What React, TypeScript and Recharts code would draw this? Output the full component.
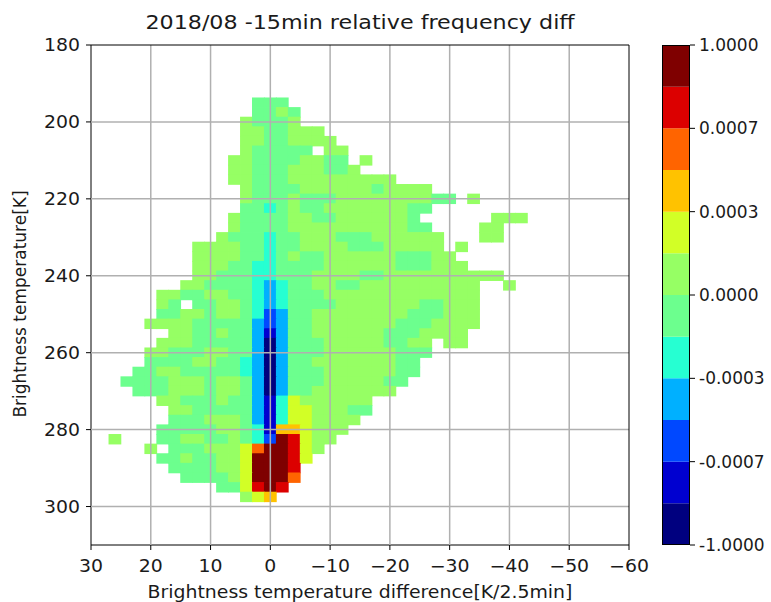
import React from "react";
import { ScatterChart, Scatter, XAxis, YAxis, ReferenceLine, BarChart, Bar } from "recharts";

const TITLE = "2018/08 -15min relative frequency diff";
const X_LABEL = "Brightness temperature difference[K/2.5min]";
const Y_LABEL = "Brightness temperature[K]";

const X_TICKS = [30, 20, 10, 0, -10, -20, -30, -40, -50, -60];
const Y_TICKS = [180, 200, 220, 240, 260, 280, 300];

// bin centres of the contour grid (K/2.5min and K)
const X_BINS = [26, 24, 22, 20, 18, 16, 14, 12, 10, 8, 6, 4, 2, 0, -2, -4, -6, -8, -10, -12,
    -14, -16, -18, -20, -22, -24, -26, -28, -30, -32, -34, -36, -38, -40, -42, -44];
const Y_BINS = [195, 197.5, 200, 202.5, 205, 207.5, 210, 212.5, 215, 217.5, 220, 222.5, 225,
    227.5, 230, 232.5, 235, 237.5, 240, 242.5, 245, 247.5, 250, 252.5, 255, 257.5, 260, 262.5,
    265, 267.5, 270, 272.5, 275, 277.5, 280, 282.5, 285, 287.5, 290, 292.5, 295, 297.5];

// contour level per bin ('.' = no data, 0..b = colour level index)
const GRID = [
    "............555",
    "............5565",
    "...........65556",
    "...........6655666",
    "...........66556666",
    "...........655555.66",
    "..........6655556655.6",
    "..........66555666556",
    "..........66555666666666",
    "...........6555566666656666",
    "...........655565556666666655.6",
    "...........5545655666666655",
    "..........6555566556666665......666",
    "..........65555666666666655....66",
    ".........6555455666555666666...66",
    ".......666655455666655566666.6",
    ".......6666554565566666655566",
    ".......66655445555666666555666",
    ".......66555445556666556666666666",
    "......6655554345566556666666666..6",
    "....665566554345556666666666666",
    "....65.556654345555666666655666",
    "....556656654235566666666555666",
    "...6666555553235566666665556666",
    ".....6655655313556666665556666",
    "....66655555303555666665566.66",
    "...665556655303555666666555",
    "...55556655430355666666655",
    "..556655555430355566666655",
    ".555566656653035556666655",
    "..5556665665303556666666",
    "....665556553147666666",
    ".....66555553147766655",
    ".....5556665314776666",
    "....5555566541887666",
    "6...5566556542ba766",
    "...6.55566679bba76",
    "....55655667bbba7",
    ".....5555667bbba",
    "......555567bbb9",
    ".........557aba",
    "...........678",
];

const LEVEL_COLORS = [
    "#00007f", "#0000d0", "#0048ff", "#00b0ff", "#26ffd2", "#6cff8e",
    "#96ff64", "#d2ff26", "#ffc200", "#ff6400", "#dc0000", "#7f0000",
];
const LEVEL_TICKS = [0, 2, 4, 6, 8, 10, 12];
const LEVEL_LABELS = ["-1.0000", "-0.0007", "-0.0003", "0.0000", "0.0003", "0.0007", "1.0000"];

const cells: { x: number; y: number; level: number }[] = [];
GRID.forEach((row, r) => {
    for (let i = 0; i < row.length; i++) {
        const ch = row[i];
        if (ch === ".") continue;
        cells.push({ x: X_BINS[i], y: Y_BINS[r], level: parseInt(ch, 16) });
    }
});

const cbRow: Record<string, any> = { name: "cb" };
LEVEL_COLORS.forEach((_, i) => { cbRow[`l${i}`] = 1; });

const FONT = "DejaVu Sans, sans-serif";
const INK = "#1a1a1a";
const STRETCH = 1.11; // the source figure is a little wider than tall
const PLOT_W = 538;
const PLOT_H = 500;
const CELL_W = (PLOT_W / 90) * 2 + 0.8;
const CELL_H = (PLOT_H / 130) * 2.5 + 0.8;

const CellShape = (p: any) => (
    <rect x={p.cx - CELL_W / 2} y={p.cy - CELL_H / 2} width={CELL_W} height={CELL_H}
        fill={LEVEL_COLORS[p.payload.level]} />
);

const fmtX = (v: number) => (v < 0 ? `\u2212${-v}` : `${v}`);

const makeTick = (anchor: "start" | "middle" | "end", dy: string, fmt: (v: number) => string, sx: number) =>
    ({ x, y, payload }: any) => (
        <g transform={`translate(${x},${y})`}>
            <text x={0} y={0} dy={dy} textAnchor={anchor} fontSize={17} fill={INK} fontFamily={FONT}
                transform={`scale(${sx},1)`}>
                {fmt(payload.value)}
            </text>
        </g>
    );

const XTick = makeTick("middle", "0.71em", fmtX, STRETCH);
const YTick = makeTick("end", "0.355em", (v) => `${v}`, STRETCH);
const CbTick = makeTick("start", "0.355em", (v) => LEVEL_LABELS[LEVEL_TICKS.indexOf(v)], 1);

export default function App() {
    return (
        <div style={{ position: "absolute", left: 0, top: 0, width: 771, height: 602, background: "#fff", fontFamily: FONT, color: INK }}>
            <ScatterChart width={660} height={602} margin={{ top: 45, right: 31, bottom: 27, left: 41 }}>
                <XAxis type="number" dataKey="x" domain={[-60, 30]} reversed ticks={X_TICKS}
                    tickFormatter={fmtX} height={30} tickSize={5} tickMargin={10} interval={0}
                    axisLine={{ stroke: "#000" }} tickLine={{ stroke: "#000" }}
                    tick={XTick} allowDataOverflow />
                <YAxis type="number" dataKey="y" domain={[180, 310]} reversed ticks={Y_TICKS}
                    width={50} tickSize={5} tickMargin={6} interval={0}
                    axisLine={{ stroke: "#000" }} tickLine={{ stroke: "#000" }}
                    tick={YTick} allowDataOverflow />
                <Scatter data={cells} shape={CellShape} isAnimationActive={false} />
                {X_TICKS.slice(1, -1).map((t) => (
                    <ReferenceLine key={`gx${t}`} x={t} stroke="#b0b0b0" strokeWidth={1.5} zIndex={700} />
                ))}
                {Y_TICKS.slice(1).map((t) => (
                    <ReferenceLine key={`gy${t}`} y={t} stroke="#b0b0b0" strokeWidth={1.5} zIndex={700} />
                ))}
                <ReferenceLine y={180} stroke="#000" zIndex={800} />
                <ReferenceLine x={-60} stroke="#000" zIndex={800} />
            </ScatterChart>

            <div style={{ position: "absolute", left: 640, top: 0 }}>
                <BarChart width={131} height={602} data={[cbRow]} margin={{ top: 45, right: 0, bottom: 57, left: 22 }}
                    barCategoryGap={0}>
                    <XAxis dataKey="name" hide />
                    <YAxis orientation="right" type="number" domain={[0, 12]} ticks={LEVEL_TICKS}
                        width={81} tickSize={5} tickMargin={4} axisLine={false} interval={0}
                        tickLine={{ stroke: "#000" }} tick={CbTick} />
                    {LEVEL_COLORS.map((c, i) => (
                        <Bar key={i} dataKey={`l${i}`} stackId="cb" fill={c} isAnimationActive={false} />
                    ))}
                </BarChart>
            </div>
            <div style={{ position: "absolute", left: 662, top: 45, width: 28, height: 500, border: "1px solid #000", boxSizing: "border-box", pointerEvents: "none" }} />

            <div style={{ position: "absolute", left: 91, top: 10, width: PLOT_W, textAlign: "center", fontSize: 20, whiteSpace: "nowrap", transform: `scaleX(${STRETCH})` }}>
                {TITLE}
            </div>
            <div style={{ position: "absolute", left: 91, top: 582, width: PLOT_W, textAlign: "center", fontSize: 17, whiteSpace: "nowrap", transform: `scaleX(${STRETCH})` }}>
                {X_LABEL}
            </div>
            <div style={{ position: "absolute", left: 20, top: 304, transform: "translate(-50%, -50%) rotate(-90deg)", fontSize: 17, whiteSpace: "nowrap" }}>
                {Y_LABEL}
            </div>
        </div>
    );
}
